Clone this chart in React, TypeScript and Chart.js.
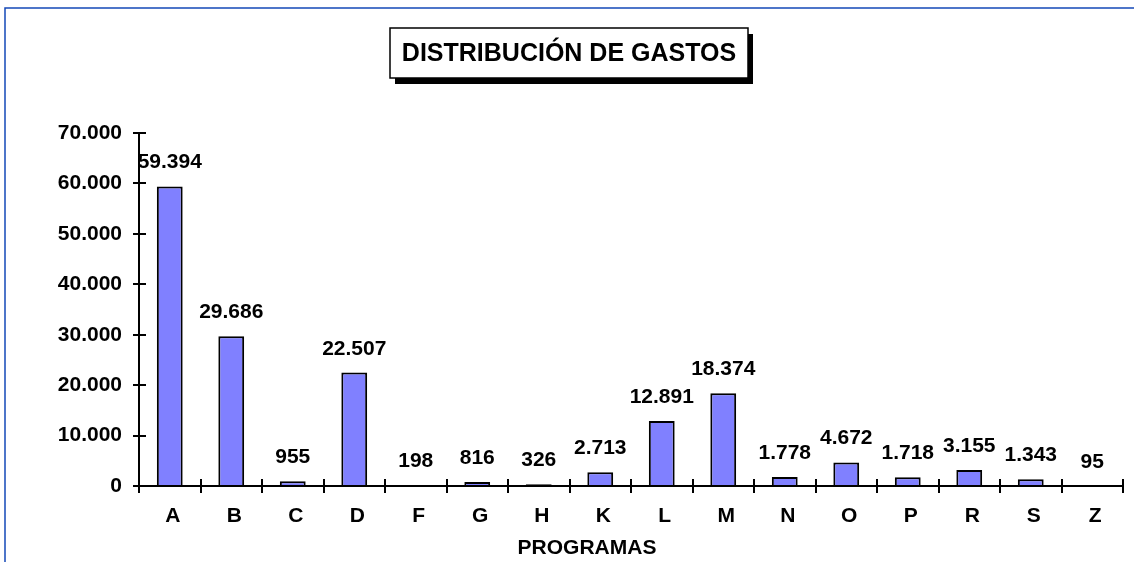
import React, { useEffect, useRef } from "react";
import { Chart, registerables } from "chart.js";

Chart.register(...registerables);

const categories = ["A", "B", "C", "D", "F", "G", "H", "K", "L", "M", "N", "O", "P", "R", "S", "Z"];
const gastos = [59394, 29686, 955, 22507, 198, 816, 326, 2713, 12891, 18374, 1778, 4672, 1718, 3155, 1343, 95];
const yMin = 0;
const yMax = 70000;
const yStep = 10000;
const titleText = "DISTRIBUCIÓN DE GASTOS";
const xAxisTitle = "PROGRAMAS";

const fmt = (v: number) => String(Math.round(v)).replace(/\B(?=(\d{3})+(?!\d))/g, ".");

const FONT = "Arial, 'Liberation Sans', sans-serif";

const decorPlugin = {
  id: "decor",
  beforeDraw(chart: any) {
    const ctx = chart.ctx;
    ctx.save();
    ctx.fillStyle = "#ffffff";
    ctx.fillRect(0, 0, chart.width, chart.height);
    ctx.strokeStyle = "#1448b8";
    ctx.lineWidth = 1.5;
    ctx.strokeRect(5, 8, chart.width + 20, chart.height + 20);
    ctx.restore();
  },
  afterDatasetsDraw(chart: any) {
    const ctx = chart.ctx;
    const meta = chart.getDatasetMeta(0);
    ctx.save();
    ctx.fillStyle = "#000";
    ctx.font = `bold 21px ${FONT}`;
    ctx.textAlign = "center";
    ctx.textBaseline = "alphabetic";
    meta.data.forEach((el: any, i: number) => {
      ctx.fillText(fmt(gastos[i]), el.x, el.y - 18);
    });
    ctx.restore();
  },
  afterDraw(chart: any) {
    const ctx = chart.ctx;
    const x = chart.scales.x;
    const y = chart.scales.y;
    const area = chart.chartArea;
    ctx.save();
    ctx.strokeStyle = "#000";
    ctx.lineWidth = 2;
    ctx.beginPath();
    ctx.moveTo(area.left, y.getPixelForValue(yMax));
    ctx.lineTo(area.left, y.getPixelForValue(yMin) + 1);
    for (let v = yMin; v <= yMax; v += yStep) {
      const py = Math.round(y.getPixelForValue(v));
      ctx.moveTo(area.left - 6, py);
      ctx.lineTo(area.left + 7, py);
    }
    const y0 = Math.round(y.getPixelForValue(0));
    ctx.moveTo(area.left, y0);
    ctx.lineTo(area.right, y0);
    const n = categories.length;
    const step = x.getPixelForValue(1) - x.getPixelForValue(0);
    for (let i = 0; i <= n; i++) {
      const px = Math.round(x.getPixelForValue(i) - step / 2);
      ctx.moveTo(px, y0 - 7);
      ctx.lineTo(px, y0 + 7);
    }
    ctx.stroke();

    ctx.fillStyle = "#000";
    ctx.font = `bold 21px ${FONT}`;
    ctx.textAlign = "center";
    ctx.textBaseline = "middle";
    ctx.fillText(xAxisTitle, 587, 548);

    const bx = 390, by = 28, bw = 358, bh = 50;
    ctx.fillStyle = "#000";
    ctx.fillRect(bx + 5, by + 6, bw, bh);
    ctx.fillStyle = "#fff";
    ctx.fillRect(bx, by, bw, bh);
    ctx.strokeStyle = "#000";
    ctx.lineWidth = 1.5;
    ctx.strokeRect(bx, by, bw, bh);
    ctx.fillStyle = "#000";
    ctx.font = `bold 25px ${FONT}`;
    ctx.textAlign = "center";
    ctx.textBaseline = "middle";
    ctx.fillText(titleText, bx + bw / 2, by + bh / 2 + 1);
    ctx.restore();
  },
};

export default function App() {
  const ref = useRef<HTMLCanvasElement | null>(null);
  useEffect(() => {
    if (!ref.current) return;
    const chart = new Chart(ref.current, {
      type: "bar",
      data: {
        labels: categories,
        datasets: [
          {
            data: gastos,
            backgroundColor: "#8080FF",
            borderColor: "#000000",
            borderWidth: 2,
            barPercentage: 0.42,
            categoryPercentage: 1,
          },
        ],
      },
      options: {
        responsive: false,
        animation: false,
        layout: { padding: { top: 133, right: 11, left: 0, bottom: 0 } },
        plugins: {
          legend: { display: false },
          tooltip: { enabled: false },
          title: { display: false },
        },
        scales: {
          x: {
            grid: { display: false, drawTicks: false },
            border: { display: false },
            ticks: {
              color: "#000",
              font: { family: FONT, size: 21, weight: "bold" },
              padding: 18,
              labelOffset: 3,
              maxRotation: 0,
              autoSkip: false,
            },
            afterFit: (s: any) => {
              s.height = 76;
            },
          },
          y: {
            min: yMin,
            max: yMax,
            grid: { display: false, drawTicks: false },
            border: { display: false },
            ticks: {
              stepSize: yStep,
              color: "#000",
              font: { family: FONT, size: 21, weight: "bold" },
              padding: 17,
              callback: (v: any) => fmt(Number(v)),
            },
            afterFit: (s: any) => {
              s.width = 139;
            },
          },
        },
      },
      plugins: [decorPlugin],
    });
    return () => chart.destroy();
  }, []);
  return (
    <div style={{ position: "fixed", left: 0, top: 0, width: 1134, height: 562 }}>
      <canvas ref={ref} width={1134} height={562} style={{ display: "block", width: 1134, height: 562 }} />
    </div>
  );
}
